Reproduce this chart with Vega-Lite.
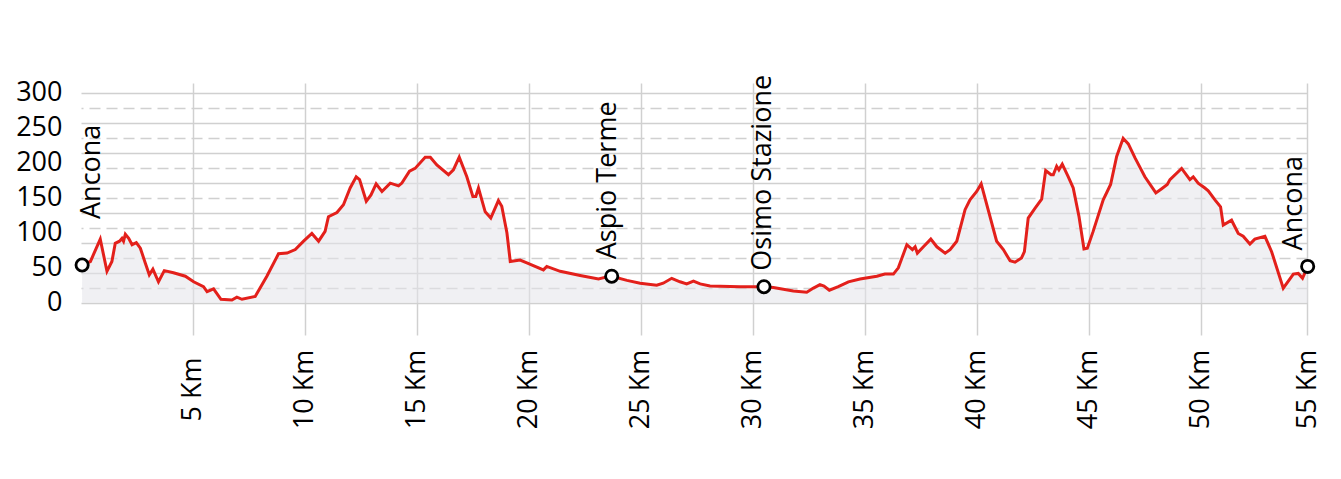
{
  "$schema": "https://vega.github.io/schema/vega-lite/v6.json",
  "width": 1226,
  "height": 252,
  "autosize": {"type": "none"},
  "padding": {"left": 81, "top": 83, "right": 34, "bottom": 144},
  "background": "white",
  "config": {"view": {"stroke": null}, "font": "Open Sans"},
  "datasets": {
    "profile": [
      {"km": 0.05, "elev": 54}, {"km": 0.42, "elev": 59}, {"km": 0.86, "elev": 91}, {"km": 1.16, "elev": 45},
      {"km": 1.38, "elev": 59}, {"km": 1.53, "elev": 85}, {"km": 1.72, "elev": 88}, {"km": 1.83, "elev": 92},
      {"km": 1.9, "elev": 88}, {"km": 1.98, "elev": 98}, {"km": 2.13, "elev": 92}, {"km": 2.28, "elev": 83},
      {"km": 2.47, "elev": 86}, {"km": 2.65, "elev": 78}, {"km": 2.87, "elev": 57}, {"km": 3.05, "elev": 40},
      {"km": 3.21, "elev": 48}, {"km": 3.46, "elev": 30}, {"km": 3.72, "elev": 46}, {"km": 4.13, "elev": 43},
      {"km": 4.66, "elev": 38}, {"km": 5.03, "elev": 30}, {"km": 5.47, "elev": 23}, {"km": 5.63, "elev": 16},
      {"km": 5.92, "elev": 20}, {"km": 6.25, "elev": 5}, {"km": 6.74, "elev": 4}, {"km": 6.96, "elev": 8},
      {"km": 7.19, "elev": 5}, {"km": 7.78, "elev": 9}, {"km": 8.3, "elev": 38}, {"km": 8.82, "elev": 70},
      {"km": 9.2, "elev": 71}, {"km": 9.57, "elev": 76}, {"km": 9.94, "elev": 88}, {"km": 10.31, "elev": 99},
      {"km": 10.61, "elev": 88}, {"km": 10.9, "elev": 102}, {"km": 11.05, "elev": 123}, {"km": 11.43, "elev": 129},
      {"km": 11.72, "elev": 140}, {"km": 12.02, "elev": 164}, {"km": 12.29, "elev": 180}, {"km": 12.44, "elev": 176},
      {"km": 12.74, "elev": 145}, {"km": 12.95, "elev": 154}, {"km": 13.18, "elev": 170}, {"km": 13.44, "elev": 159},
      {"km": 13.81, "elev": 171}, {"km": 14.18, "elev": 167}, {"km": 14.33, "elev": 171}, {"km": 14.67, "elev": 188},
      {"km": 14.92, "elev": 192}, {"km": 15.37, "elev": 208}, {"km": 15.6, "elev": 208}, {"km": 15.89, "elev": 197},
      {"km": 16.41, "elev": 183}, {"km": 16.63, "elev": 190}, {"km": 16.89, "elev": 208}, {"km": 17.23, "elev": 180},
      {"km": 17.5, "elev": 152}, {"km": 17.63, "elev": 152}, {"km": 17.75, "elev": 164}, {"km": 18.05, "elev": 130},
      {"km": 18.3, "elev": 121}, {"km": 18.64, "elev": 146}, {"km": 18.79, "elev": 138}, {"km": 19.02, "elev": 100},
      {"km": 19.17, "elev": 59}, {"km": 19.39, "elev": 60}, {"km": 19.61, "elev": 61}, {"km": 19.91, "elev": 57},
      {"km": 20.65, "elev": 47}, {"km": 20.8, "elev": 52}, {"km": 21.4, "elev": 45}, {"km": 22.29, "elev": 39},
      {"km": 23.11, "elev": 34}, {"km": 23.48, "elev": 37}, {"km": 23.7, "elev": 38}, {"km": 24.38, "elev": 32},
      {"km": 24.97, "elev": 28}, {"km": 25.71, "elev": 25}, {"km": 26.0, "elev": 28}, {"km": 26.38, "elev": 35},
      {"km": 26.75, "elev": 30}, {"km": 27.05, "elev": 27}, {"km": 27.35, "elev": 31}, {"km": 27.65, "elev": 27},
      {"km": 28.09, "elev": 24}, {"km": 29.43, "elev": 23}, {"km": 30.5, "elev": 23}, {"km": 30.92, "elev": 22},
      {"km": 31.81, "elev": 17}, {"km": 32.41, "elev": 15}, {"km": 32.71, "elev": 21}, {"km": 33.0, "elev": 26},
      {"km": 33.18, "elev": 24}, {"km": 33.42, "elev": 18}, {"km": 33.82, "elev": 23}, {"km": 34.27, "elev": 30},
      {"km": 34.79, "elev": 34}, {"km": 35.54, "elev": 38}, {"km": 35.9, "elev": 41}, {"km": 36.28, "elev": 41},
      {"km": 36.5, "elev": 50}, {"km": 36.88, "elev": 83}, {"km": 37.13, "elev": 76}, {"km": 37.25, "elev": 80},
      {"km": 37.35, "elev": 71}, {"km": 37.62, "elev": 80}, {"km": 37.95, "elev": 91}, {"km": 38.22, "elev": 80},
      {"km": 38.59, "elev": 71}, {"km": 38.81, "elev": 76}, {"km": 39.11, "elev": 88}, {"km": 39.48, "elev": 133},
      {"km": 39.7, "elev": 147}, {"km": 40.0, "elev": 159}, {"km": 40.2, "elev": 170}, {"km": 40.89, "elev": 88},
      {"km": 41.19, "elev": 76}, {"km": 41.49, "elev": 60}, {"km": 41.71, "elev": 58}, {"km": 42.0, "elev": 64},
      {"km": 42.13, "elev": 73}, {"km": 42.3, "elev": 121}, {"km": 42.6, "elev": 135}, {"km": 42.9, "elev": 148},
      {"km": 42.97, "elev": 164}, {"km": 43.08, "elev": 189}, {"km": 43.32, "elev": 183}, {"km": 43.42, "elev": 183},
      {"km": 43.57, "elev": 195}, {"km": 43.67, "elev": 190}, {"km": 43.82, "elev": 198}, {"km": 44.09, "elev": 180},
      {"km": 44.31, "elev": 164}, {"km": 44.57, "elev": 123}, {"km": 44.79, "elev": 77}, {"km": 44.94, "elev": 78},
      {"km": 45.2, "elev": 102}, {"km": 45.65, "elev": 147}, {"km": 45.98, "elev": 169}, {"km": 46.25, "elev": 209},
      {"km": 46.54, "elev": 235}, {"km": 46.77, "elev": 227}, {"km": 47.07, "elev": 207}, {"km": 47.51, "elev": 180},
      {"km": 48.0, "elev": 157}, {"km": 48.26, "elev": 163}, {"km": 48.51, "elev": 169}, {"km": 48.63, "elev": 176},
      {"km": 49.15, "elev": 192}, {"km": 49.52, "elev": 176}, {"km": 49.67, "elev": 180}, {"km": 49.89, "elev": 171},
      {"km": 50.19, "elev": 164}, {"km": 50.34, "elev": 160}, {"km": 50.64, "elev": 147}, {"km": 50.89, "elev": 137},
      {"km": 51.01, "elev": 111}, {"km": 51.38, "elev": 118}, {"km": 51.68, "elev": 99}, {"km": 51.9, "elev": 95},
      {"km": 52.2, "elev": 84}, {"km": 52.42, "elev": 91}, {"km": 52.87, "elev": 95}, {"km": 53.17, "elev": 73},
      {"km": 53.69, "elev": 21}, {"km": 54.14, "elev": 41}, {"km": 54.36, "elev": 42}, {"km": 54.55, "elev": 35},
      {"km": 54.78, "elev": 52}
    ],
    "places": [
      {"km": 0.05, "elev": 54, "name": "Ancona"},
      {"km": 23.7, "elev": 38, "name": "Aspio Terme"},
      {"km": 30.5, "elev": 23, "name": "Osimo Stazione"},
      {"km": 54.78, "elev": 52, "name": "Ancona"}
    ]
  },
  "layer": [
    {
      "data": {"name": "profile"},
      "mark": {"type": "area", "color": "#e4e4e9", "opacity": 0.55},
      "encoding": {
        "x": {
          "field": "km", "type": "quantitative",
          "scale": {"domain": [0, 54.75], "nice": false, "zero": false},
          "axis": {
            "values": [5, 10, 15, 20, 25, 30, 35, 40, 45, 50, 54.75],
            "labelExpr": "round(datum.value) + ' Km'",
            "labelAngle": 270, "labelAlign": "center", "labelBaseline": "middle",
            "labelPadding": 54, "labelFontSize": 27, "labelFont": "Open Sans", "labelColor": "black",
            "ticks": false, "domain": false, "grid": true, "gridColor": "#d0d0d0", "gridWidth": 1.5,
            "title": null, "labelOverlap": false, "labelFlush": false, "labelBound": false
          }
        },
        "y": {
          "field": "elev", "type": "quantitative",
          "scale": {"domain": [-46, 314], "nice": false, "zero": false},
          "axis": {
            "values": [0, 50, 100, 150, 200, 250, 300],
            "grid": false, "ticks": false, "domain": false,
            "labelFontSize": 27, "labelFont": "Open Sans", "labelColor": "black",
            "labelPadding": 19, "labelBaseline": "middle", "title": null
          }
        },
        "y2": {"datum": 0}
      }
    },
    {
      "data": {"name": "profile"},
      "mark": {"type": "line", "color": "#e3201b", "strokeWidth": 3},
      "encoding": {
        "x": {"field": "km", "type": "quantitative"},
        "y": {
          "field": "elev", "type": "quantitative",
          "axis": {
            "values": [0, 21.4286, 42.8571, 64.2857, 85.7143, 107.1429, 128.5714, 150, 171.4286, 192.8571, 214.2857, 235.7143, 257.1429, 278.5714, 300],
            "labels": false, "ticks": false, "domain": false, "grid": true,
            "gridColor": "#d0d0d0", "gridWidth": 1.5,
            "gridDash": {"condition": {"test": "round(datum.value*14/300) % 2 == 1", "value": [11, 6]}, "value": []},
            "title": null
          }
        }
      }
    },
    {
      "data": {"name": "places"},
      "mark": {"type": "point", "shape": "circle", "filled": false, "fill": "white", "fillOpacity": 1, "stroke": "black", "strokeWidth": 2.8, "size": 150, "opacity": 1},
      "encoding": {
        "x": {"field": "km", "type": "quantitative"},
        "y": {"field": "elev", "type": "quantitative", "axis": null}
      }
    },
    {
      "data": {"name": "places"},
      "transform": [{"filter": "datum.km < 1"}],
      "mark": {"type": "text", "angle": 270, "align": "left", "baseline": "alphabetic", "fontSize": 27, "font": "Open Sans", "color": "black", "dx": 46, "dy": 18},
      "encoding": {
        "x": {"field": "km", "type": "quantitative"},
        "y": {"field": "elev", "type": "quantitative", "axis": null},
        "text": {"field": "name"}
      }
    },
    {
      "data": {"name": "places"},
      "transform": [{"filter": "datum.name == 'Aspio Terme'"}],
      "mark": {"type": "text", "angle": 270, "align": "left", "baseline": "alphabetic", "fontSize": 27, "font": "Open Sans", "color": "black", "dx": 17, "dy": 4},
      "encoding": {
        "x": {"field": "km", "type": "quantitative"},
        "y": {"field": "elev", "type": "quantitative", "axis": null},
        "text": {"field": "name"}
      }
    },
    {
      "data": {"name": "places"},
      "transform": [{"filter": "datum.name == 'Osimo Stazione'"}],
      "mark": {"type": "text", "angle": 270, "align": "left", "baseline": "alphabetic", "fontSize": 27, "font": "Open Sans", "color": "black", "dx": 16, "dy": 7},
      "encoding": {
        "x": {"field": "km", "type": "quantitative"},
        "y": {"field": "elev", "type": "quantitative", "axis": null},
        "text": {"field": "name"}
      }
    },
    {
      "data": {"name": "places"},
      "transform": [{"filter": "datum.km > 54"}],
      "mark": {"type": "text", "angle": 270, "align": "left", "baseline": "alphabetic", "fontSize": 27, "font": "Open Sans", "color": "black", "dx": 16, "dy": -6},
      "encoding": {
        "x": {"field": "km", "type": "quantitative"},
        "y": {"field": "elev", "type": "quantitative", "axis": null},
        "text": {"field": "name"}
      }
    }
  ],
  "resolve": {"axis": {"y": "independent"}}
}
